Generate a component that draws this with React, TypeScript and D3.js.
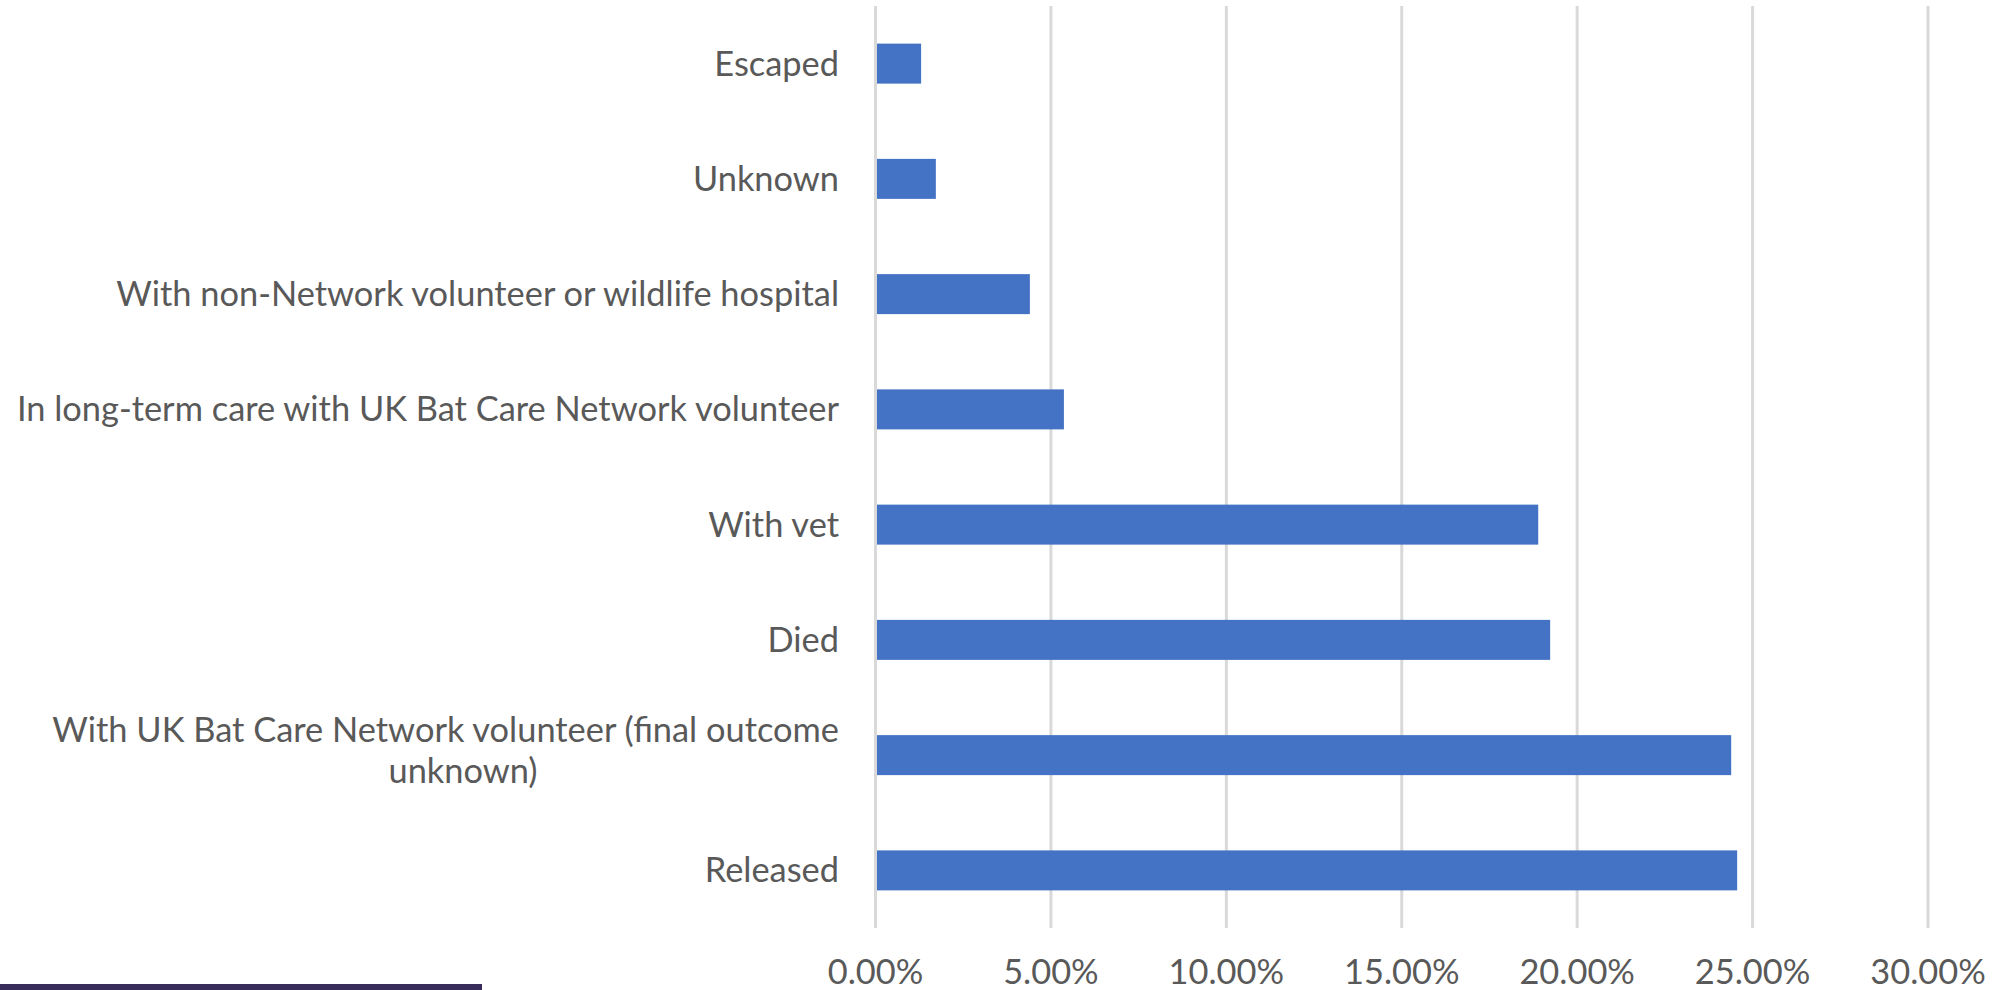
import React from "react";
import * as d3 from "d3";

const categories = [
  "Escaped",
  "Unknown",
  "With non-Network volunteer or wildlife hospital",
  "In long-term care with UK Bat Care Network volunteer",
  "With vet",
  "Died",
  "With UK Bat Care Network volunteer (final outcome unknown)",
  "Released",
];
const values = [0.013, 0.0172, 0.044, 0.0537, 0.1889, 0.1923, 0.2439, 0.2456];
const tickValues = [0, 0.05, 0.1, 0.15, 0.2, 0.25, 0.3];
const wrappedLabels: Record<string, string[]> = {
  "With UK Bat Care Network volunteer (final outcome unknown)": [
    "With UK Bat Care Network volunteer (final outcome",
    "unknown)",
  ],
};

const W = 2000;
const H = 990;
const FONT = "Lato, 'Open Sans', sans-serif";
const FS = 34.4;
const TEXT = "#595959";

export default function App() {
  const x = d3.scaleLinear().domain([0, 0.3]).range([875.5, 1928]);
  const y = d3
    .scaleBand<string>()
    .domain(categories)
    .range([6, 928])
    .paddingInner(0.653)
    .paddingOuter(0.653 / 2);
  const fmt = d3.format(".2%");
  const labelX = 839;

  return (
    <svg
      width={W}
      height={H}
      style={{ position: "absolute", left: 0, top: 0, background: "#fff" }}
      fontFamily={FONT}
    >
      <rect x={0} y={0} width={W} height={H} fill="#ffffff" />
      {tickValues.map((t) => (
        <line
          key={"g" + t}
          x1={x(t)}
          x2={x(t)}
          y1={6}
          y2={928}
          stroke="#d9d9d9"
          strokeWidth={3}
        />
      ))}
      {categories.map((c, i) => (
        <rect
          key={"b" + c}
          x={x(0) + 1.5}
          y={y(c)}
          width={x(values[i]) - x(0) - 1.5}
          height={y.bandwidth()}
          fill="#4472c4"
        />
      ))}
      {categories.map((c) => {
        const cy = (y(c) as number) + y.bandwidth() / 2;
        const lines = wrappedLabels[c];
        if (lines) {
          return (
            <g key={"l" + c} fill={TEXT} fontSize={FS}>
              <text x={labelX} y={cy - 13.5} textAnchor="end">
                {lines[0]}
              </text>
              <text x={463} y={cy + 28} textAnchor="middle">
                {lines[1]}
              </text>
            </g>
          );
        }
        return (
          <text
            key={"l" + c}
            x={labelX}
            y={cy + 12}
            textAnchor="end"
            fill={TEXT}
            fontSize={FS}
          >
            {c}
          </text>
        );
      })}
      {tickValues.map((t) => (
        <text
          key={"t" + t}
          x={x(t)}
          y={984}
          textAnchor="middle"
          fill={TEXT}
          fontSize={FS}
        >
          {fmt(t)}
        </text>
      ))}
      <rect x={0} y={984} width={482} height={6} fill="#382c5a" />
    </svg>
  );
}
